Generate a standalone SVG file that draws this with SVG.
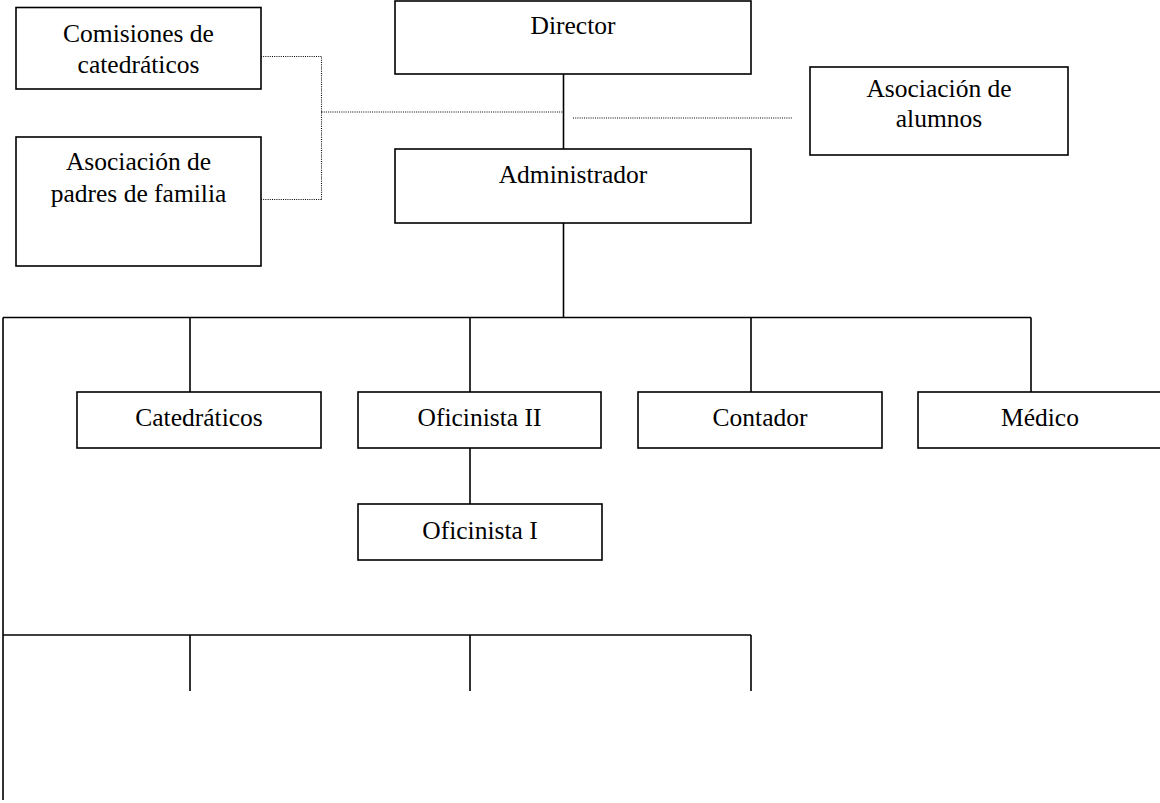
<svg xmlns="http://www.w3.org/2000/svg" width="1160" height="803" viewBox="0 0 1160 803">
  <style>
    .box { fill: #ffffff; stroke: #000000; stroke-width: 1.6; }
    .lbl { font-family: "Liberation Serif", "Times New Roman", serif; font-size: 25.5px; fill: #000000; text-anchor: middle; }
    .solid { fill: none; stroke: #000000; stroke-width: 1.6; }
    .dot { fill: none; stroke: #000000; stroke-width: 1.1; stroke-dasharray: 1 1.2; }
  </style>
  <rect width="1160" height="803" fill="#ffffff"/>

  <!-- connectors -->
  <g id="connectors">
    <!-- staff (dotted) links -->
    <path class="dot" d="M261 56.5 H321.5 V200 M261 199.5 H321.5 M321.5 112 H563 M573 118 H792"/>
    <!-- Director to Administrador -->
    <path class="solid" d="M563.5 74 V149"/>
    <!-- Administrador to department bus -->
    <path class="solid" d="M563.5 223 V317.5"/>
    <path class="solid" d="M3 317.5 H1031 M190 317.5 V392 M470 317.5 V392 M751 317.5 V392 M1031 317.5 V392"/>
    <!-- Oficinista II to Oficinista I -->
    <path class="solid" d="M470 448 V504"/>
    <!-- lower bus -->
    <path class="solid" d="M3 317.5 V800 M3 635 H751 M190 635 V691 M470 635 V691 M751 635 V691"/>
  </g>

  <g id="comisiones">
    <rect class="box" x="16" y="7.5" width="245" height="81.5"/>
    <text class="lbl" x="138.5" y="42">Comisiones de</text>
    <text class="lbl" x="138.5" y="73">catedráticos</text>
  </g>

  <g id="padres">
    <rect class="box" x="16" y="137" width="245" height="129"/>
    <text class="lbl" x="138.5" y="170">Asociación de</text>
    <text class="lbl" x="138.5" y="202">padres de familia</text>
  </g>

  <g id="director">
    <rect class="box" x="395" y="1" width="356" height="73"/>
    <text class="lbl" x="573" y="34">Director</text>
  </g>

  <g id="administrador">
    <rect class="box" x="395" y="149" width="356" height="74"/>
    <text class="lbl" x="573" y="183">Administrador</text>
  </g>

  <g id="alumnos">
    <rect class="box" x="810" y="67" width="258" height="88"/>
    <text class="lbl" x="939" y="97">Asociación de</text>
    <text class="lbl" x="939" y="127">alumnos</text>
  </g>

  <g id="catedraticos">
    <rect class="box" x="77" y="392" width="244" height="56"/>
    <text class="lbl" x="199" y="426">Catedráticos</text>
  </g>

  <g id="oficinista2">
    <rect class="box" x="358" y="392" width="243" height="56"/>
    <text class="lbl" x="479.5" y="426">Oficinista II</text>
  </g>

  <g id="contador">
    <rect class="box" x="638" y="392" width="244" height="56"/>
    <text class="lbl" x="760" y="426">Contador</text>
  </g>

  <g id="medico">
    <rect class="box" x="918" y="392" width="244" height="56"/>
    <text class="lbl" x="1040" y="426">Médico</text>
  </g>

  <g id="oficinista1">
    <rect class="box" x="358" y="504" width="244" height="56"/>
    <text class="lbl" x="480" y="539">Oficinista I</text>
  </g>
</svg>
